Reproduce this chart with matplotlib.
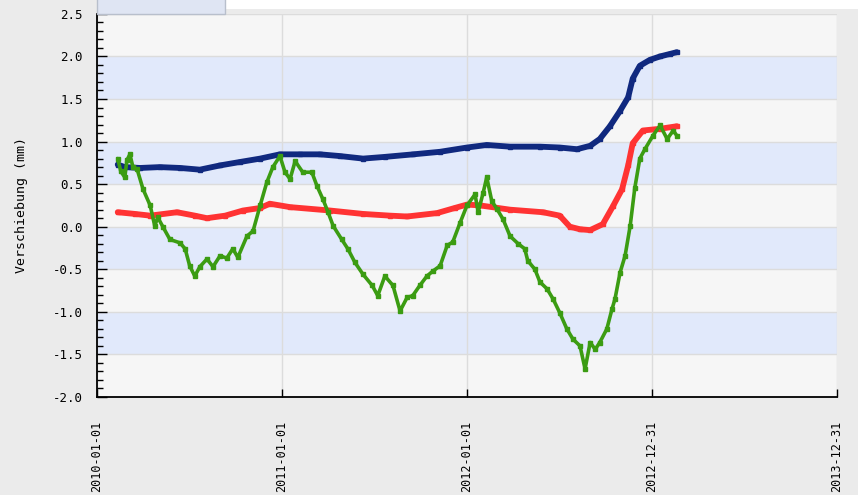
import matplotlib
matplotlib.use("Agg")
import matplotlib.pyplot as plt
from matplotlib.patches import Rectangle
from matplotlib.ticker import MultipleLocator
import pandas as pd

# Messreihen (Verschiebung in mm)
blue_dates = ["2010-02-11", "2010-02-25", "2010-03-27", "2010-05-05", "2010-06-14",
              "2010-07-23", "2010-09-01", "2010-10-10", "2010-11-19", "2010-12-28",
              "2011-02-05", "2011-03-17", "2011-04-25", "2011-06-10", "2011-07-23",
              "2011-09-17", "2011-11-09", "2012-01-01", "2012-02-09", "2012-03-26",
              "2012-05-24", "2012-07-02", "2012-08-05", "2012-08-31", "2012-09-19",
              "2012-10-09", "2012-10-29", "2012-11-14", "2012-11-23", "2012-12-07",
              "2012-12-27", "2013-01-16", "2013-02-05", "2013-02-18"]
blue_vals = [0.73, 0.70, 0.69, 0.70, 0.69, 0.67, 0.72, 0.76, 0.80, 0.85,
             0.85, 0.85, 0.83, 0.80, 0.82, 0.85, 0.88, 0.93, 0.96, 0.94,
             0.94, 0.93, 0.91, 0.95, 1.03, 1.18, 1.36, 1.52, 1.74, 1.89,
             1.96, 2.00, 2.03, 2.05]

red_dates = ["2010-02-11", "2010-03-17", "2010-04-16", "2010-06-08", "2010-07-13",
             "2010-08-06", "2010-09-11", "2010-10-16", "2010-11-19", "2010-12-08",
             "2011-01-17", "2011-04-06", "2011-06-10", "2011-08-02", "2011-09-05",
             "2011-11-03", "2011-12-08", "2012-01-01", "2012-01-27", "2012-03-26",
             "2012-05-30", "2012-07-02", "2012-07-22", "2012-08-11", "2012-08-31",
             "2012-09-25", "2012-10-15", "2012-11-02", "2012-11-14", "2012-11-23",
             "2012-12-13", "2013-01-16", "2013-02-18"]
red_vals = [0.17, 0.15, 0.13, 0.17, 0.13, 0.10, 0.13, 0.19, 0.22, 0.27,
            0.23, 0.19, 0.15, 0.13, 0.12, 0.16, 0.22, 0.26, 0.25, 0.20,
            0.17, 0.13, 0.00, -0.03, -0.04, 0.03, 0.24, 0.44, 0.72, 0.98,
            1.13, 1.15, 1.18]

green_dates = ["2010-02-11", "2010-02-17", "2010-02-25", "2010-03-01", "2010-03-07",
               "2010-03-13", "2010-03-21", "2010-04-02", "2010-04-16", "2010-04-25",
               "2010-05-01", "2010-05-11", "2010-05-25", "2010-06-14", "2010-06-24",
               "2010-07-03", "2010-07-13", "2010-07-23", "2010-08-06", "2010-08-18",
               "2010-09-01", "2010-09-14", "2010-09-26", "2010-10-06", "2010-10-24",
               "2010-11-05", "2010-11-19", "2010-12-02", "2010-12-14", "2010-12-28",
               "2011-01-07", "2011-01-17", "2011-01-27", "2011-02-11", "2011-03-01",
               "2011-03-11", "2011-03-23", "2011-04-02", "2011-04-12", "2011-04-29",
               "2011-05-11", "2011-05-25", "2011-06-10", "2011-06-28", "2011-07-09",
               "2011-07-23", "2011-08-08", "2011-08-22", "2011-09-05", "2011-09-16",
               "2011-09-30", "2011-10-14", "2011-10-26", "2011-11-09", "2011-11-23",
               "2011-12-04", "2011-12-18", "2012-01-01", "2012-01-17", "2012-01-23",
               "2012-02-02", "2012-02-09", "2012-02-19", "2012-02-29", "2012-03-12",
               "2012-03-26", "2012-04-11", "2012-04-24", "2012-04-30", "2012-05-14",
               "2012-05-24", "2012-06-07", "2012-06-19", "2012-07-02", "2012-07-16",
               "2012-07-28", "2012-08-11", "2012-08-21", "2012-08-31", "2012-09-10",
               "2012-09-19", "2012-10-03", "2012-10-13", "2012-10-19", "2012-10-29",
               "2012-11-08", "2012-11-18", "2012-11-27", "2012-12-07", "2012-12-17",
               "2013-01-02", "2013-01-16", "2013-01-30", "2013-02-11", "2013-02-18"]
green_vals = [0.80, 0.65, 0.58, 0.78, 0.85, 0.70, 0.68, 0.44, 0.25, 0.01,
              0.11, 0.00, -0.15, -0.19, -0.26, -0.46, -0.58, -0.47, -0.38, -0.47,
              -0.34, -0.37, -0.26, -0.36, -0.11, -0.05, 0.25, 0.52, 0.70, 0.83,
              0.64, 0.56, 0.77, 0.64, 0.64, 0.48, 0.32, 0.17, 0.01, -0.15,
              -0.26, -0.42, -0.56, -0.69, -0.81, -0.58, -0.69, -0.99, -0.83, -0.81,
              -0.69, -0.58, -0.52, -0.46, -0.22, -0.18, 0.04, 0.25, 0.38, 0.17,
              0.40, 0.58, 0.30, 0.21, 0.09, -0.11, -0.20, -0.26, -0.40, -0.50,
              -0.65, -0.73, -0.85, -1.01, -1.20, -1.32, -1.40, -1.67, -1.36, -1.44,
              -1.36, -1.20, -0.97, -0.85, -0.54, -0.34, 0.01, 0.45, 0.80, 0.91,
              1.07, 1.19, 1.03, 1.13, 1.07]

x_ticks = ["2010-01-01", "2011-01-01", "2012-01-01", "2012-12-31", "2013-12-31"]

mono = "DejaVu Sans Mono"

fig = plt.figure(figsize=(8.58, 4.95), dpi=100, facecolor="#ebebeb")
ax = fig.add_axes([0.113, 0.198, 0.8625, 0.774])
ax.set_facecolor("#f6f6f6")

# abwechselnde Bänder
for lo in [1.5, 0.5, -0.5, -1.5]:
    ax.axhspan(lo, lo + 0.5, color="#e1e9fb", zorder=0, lw=0)

tick_dates = pd.to_datetime(x_ticks)
ax.set_xlim(tick_dates[0], tick_dates[-1])
ax.set_ylim(-2.0, 2.5)

ax.plot(pd.to_datetime(blue_dates), blue_vals, color="#10297f", lw=4.2,
        marker="s", ms=3, solid_capstyle="round", zorder=3)
ax.plot(pd.to_datetime(red_dates), red_vals, color="#ff3333", lw=4.2,
        marker="s", ms=3, solid_capstyle="round", zorder=3)
ax.plot(pd.to_datetime(green_dates), green_vals, color="#3b9c12", lw=2.6,
        marker="s", ms=3.4, solid_capstyle="round", zorder=4)

ax.set_xticks(tick_dates)
ax.set_xticklabels(x_ticks, rotation=90, family=mono, fontsize=8.5)
ax.yaxis.set_major_locator(MultipleLocator(0.5))
ax.yaxis.set_minor_locator(MultipleLocator(0.1))
ax.yaxis.set_major_formatter(plt.FormatStrFormatter("%.1f"))
for lbl in ax.get_yticklabels():
    lbl.set_family(mono)
    lbl.set_fontsize(9)

ax.tick_params(axis="x", direction="in", length=6, width=1, pad=17)
ax.tick_params(axis="y", which="major", direction="in", length=7, width=1, pad=10)
ax.tick_params(axis="y", which="minor", direction="in", length=4, width=1)

ax.grid(True, which="major", color="#dcdcdc", lw=1, zorder=1)
ax.set_axisbelow(True)
for side in ["top", "right"]:
    ax.spines[side].set_visible(False)
for side in ["left", "bottom"]:
    ax.spines[side].set_linewidth(1.3)

ax.set_ylabel("Verschiebung (mm)", family=mono, fontsize=9.5, labelpad=18)

# Rand oben und angeschnittene Legendenbox
fig.add_artist(Rectangle((225 / 858, 1 - 9 / 495), 1, 9 / 495,
                         transform=fig.transFigure, color="white", lw=0))
fig.add_artist(Rectangle((97 / 858, 1 - 14 / 495), 128 / 858, 20 / 495,
                         transform=fig.transFigure, facecolor="#dfe5f3",
                         edgecolor="#b8bfcc", lw=1))

fig.savefig("out.png", dpi=100, facecolor=fig.get_facecolor())
